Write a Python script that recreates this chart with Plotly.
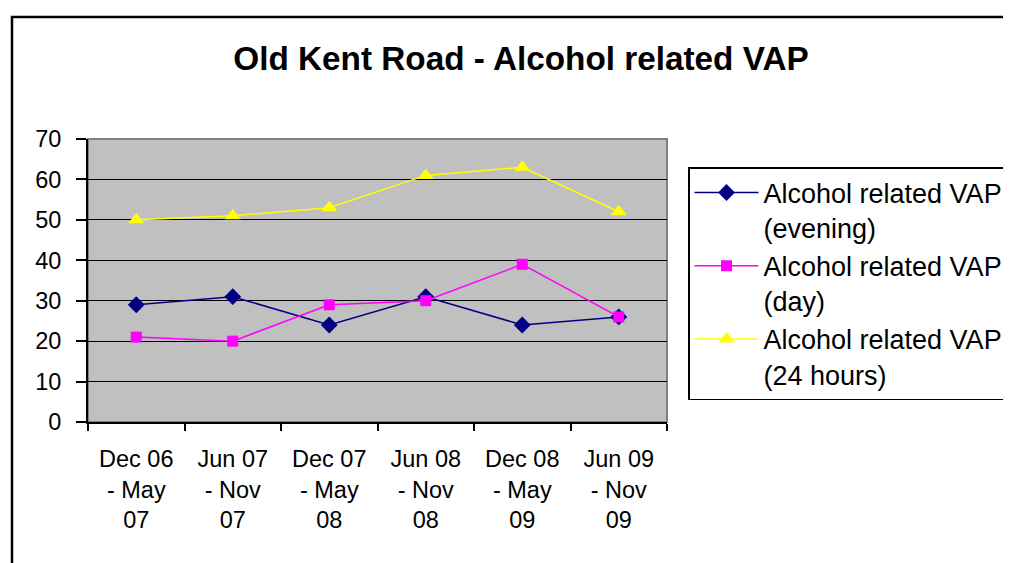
import plotly.graph_objects as go

categories = ["Dec 06<br>- May<br>07", "Jun 07<br>- Nov<br>07", "Dec 07<br>- May<br>08",
              "Jun 08<br>- Nov<br>08", "Dec 08<br>- May<br>09", "Jun 09<br>- Nov<br>09"]
evening = [29, 31, 24, 31, 24, 26]
day = [21, 20, 29, 30, 39, 26]
hours24 = [50, 51, 53, 61, 63, 52]
series_names = ["Alcohol related VAP<br>(evening)", "Alcohol related VAP<br>(day)",
                "Alcohol related VAP<br>(24 hours)"]
y_ticks = [0, 10, 20, 30, 40, 50, 60, 70]

FONT = "Liberation Sans, Arial, sans-serif"

# page body has an 8px margin; work in screen pixels and subtract it
OFF = 8
W, H = 1011 - OFF, 563 - OFF
L, R, T, B = 88 - OFF, 667 - OFF, 139 - OFF, 422 - OFF

def px_x(p):
    return (p - OFF - L) / (R - L)

def px_y(p):
    return (B - (p - OFF)) / (B - T)

fig = go.Figure()
fig.add_trace(go.Scatter(x=categories, y=evening, name=series_names[0], mode="lines+markers",
                         line=dict(color="#000080", width=1.5),
                         marker=dict(symbol="diamond", size=13, color="#000080")))
fig.add_trace(go.Scatter(x=categories, y=day, name=series_names[1], mode="lines+markers",
                         line=dict(color="#FF00FF", width=1.5),
                         marker=dict(symbol="square", size=11, color="#FF00FF")))
fig.add_trace(go.Scatter(x=categories, y=hours24, name=series_names[2], mode="lines+markers",
                         line=dict(color="#FFFF00", width=1.5),
                         marker=dict(symbol="triangle-up", size=14, color="#FFFF00")))

fig.update_layout(
    width=W, height=H,
    margin=dict(l=L, r=W - R, t=T, b=H - B, autoexpand=False),
    paper_bgcolor="white",
    plot_bgcolor="#C0C0C0",
    font=dict(family=FONT, color="black", size=23),
    title=dict(text="<b>Old Kent Road - Alcohol related VAP</b>", x=(521 - OFF) / W, xanchor="center",
               y=1 - (58 - OFF) / H, yanchor="middle", font=dict(size=33.3, family=FONT, color="black")),
    showlegend=True,
    legend=dict(x=px_x(688), y=px_y(167), xanchor="left", yanchor="top",
                bordercolor="black", borderwidth=1.5, bgcolor="white",
                font=dict(size=27, family=FONT, color="black"), valign="top",
                tracegroupgap=2, itemwidth=64),
    xaxis=dict(type="category", range=[-0.5, 5.5], showgrid=False, showline=True,
               linecolor="black", linewidth=2, ticks="outside", tickson="boundaries",
               ticklen=7, tickcolor="black", tickwidth=1.5, zeroline=False,
               tickfont=dict(size=23.5, family=FONT), ticklabelstandoff=15, fixedrange=True),
    yaxis=dict(range=[0, 70], tickvals=y_ticks, showgrid=True, gridcolor="black", gridwidth=1.2,
               showline=True, linecolor="black", linewidth=2, ticks="outside", ticklen=10,
               tickcolor="black", tickwidth=1.5, zeroline=False,
               tickfont=dict(size=23.5, family=FONT), ticklabelstandoff=10, fixedrange=True),
    shapes=[
        dict(type="rect", xref="paper", yref="paper", x0=0, x1=1, y0=0, y1=1,
             line=dict(color="#808080", width=2), layer="below"),
        dict(type="rect", xref="paper", yref="paper", x0=px_x(12), x1=px_x(1100),
             y0=px_y(700), y1=px_y(17), line=dict(color="black", width=2.5)),
    ],
)

fig.write_html("out.html")
